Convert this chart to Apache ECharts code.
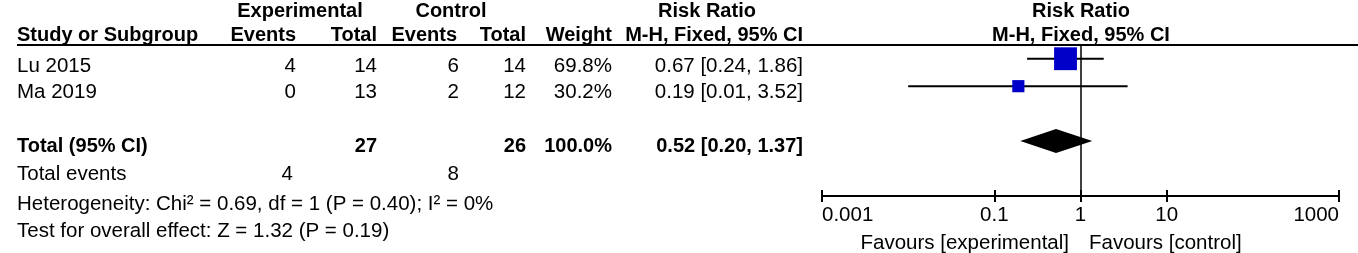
<!DOCTYPE html>
<html>
<head>
<meta charset="utf-8">
<script src="https://cdn.jsdelivr.net/npm/echarts@6/dist/echarts.min.js"></script>
<style>
  html, body { margin: 0; padding: 0; background: #fff; }
  #chart { width: 1358px; height: 253px; }
</style>
</head>
<body>
<div id="chart"></div>
<script>
// study rows
const studies = ["Lu 2015", "Ma 2019"];
const expEvents = [4, 0];
const expTotal = [14, 13];
const ctrlEvents = [6, 2];
const ctrlTotal = [14, 12];
const weights = [69.8, 30.2];
const riskRatio = [0.67, 0.19];
const ciLow = [0.24, 0.01];
const ciHigh = [1.86, 3.52];

// pooled result
const totalExp = 27;
const totalCtrl = 26;
const totalWeight = 100.0;
const totalRR = 0.52;
const totalLow = 0.20;
const totalHigh = 1.37;
const totalExpEvents = 4;
const totalCtrlEvents = 8;
const heterogeneity = "Heterogeneity: Chi² = 0.69, df = 1 (P = 0.40); I² = 0%";
const overallEffect = "Test for overall effect: Z = 1.32 (P = 0.19)";

// x axis (log scale)
const tickValues = [0.001, 0.1, 1, 10, 1000];
const tickLogs = tickValues.map(Math.log10);

const chart = echarts.init(document.getElementById("chart"));

const FONT = '20.5px "Liberation Sans", Arial, sans-serif';
const BOLD = 'bold 20px "Liberation Sans", Arial, sans-serif';

function txt(text, x, y, align, font) {
	return {
		type: "text",
		x: x,
		y: y,
		silent: true,
		style: {
			text: text,
			font: font || FONT,
			fill: "#000",
			textAlign: align || "left",
			textVerticalAlign: "middle",
		},
	};
}

// column anchors (right edges) of the table
const colStudy = 17;
const colExpE = 296;
const colExpT = 377;
const colCtrlE = 459;
const colCtrlT = 526;
const colWeight = 612;
const colCI = 803;
const studyRowY = [66, 92];

const fmtCI = (r, lo, hi) => r.toFixed(2) + " [" + lo.toFixed(2) + ", " + hi.toFixed(2) + "]";

const graphics = [
	// headers
	txt("Experimental", 300, 11, "center", BOLD),
	txt("Control", 451, 11, "center", BOLD),
	txt("Risk Ratio", 707, 11, "center", BOLD),
	txt("Risk Ratio", 1081, 11, "center", BOLD),
	txt("Study or Subgroup", colStudy, 35, "left", BOLD),
	txt("Events", colExpE, 35, "right", BOLD),
	txt("Total", colExpT, 35, "right", BOLD),
	txt("Events", colCtrlE - 2, 35, "right", BOLD),
	txt("Total", colCtrlT, 35, "right", BOLD),
	txt("Weight", colWeight, 35, "right", BOLD),
	txt("M-H, Fixed, 95% CI", colCI, 35, "right", BOLD),
	txt("M-H, Fixed, 95% CI", 1081, 35, "center", BOLD),
	{
		type: "line",
		silent: true,
		shape: {x1: 17, y1: 45, x2: 1358, y2: 45},
		style: {stroke: "#000", lineWidth: 2},
	},
];

studies.forEach((s, i) => {
	const y = studyRowY[i];
	graphics.push(
		txt(s, colStudy, y, "left"),
		txt(String(expEvents[i]), colExpE, y, "right"),
		txt(String(expTotal[i]), colExpT, y, "right"),
		txt(String(ctrlEvents[i]), colCtrlE, y, "right"),
		txt(String(ctrlTotal[i]), colCtrlT, y, "right"),
		txt(weights[i].toFixed(1) + "%", colWeight, y, "right"),
		txt(fmtCI(riskRatio[i], ciLow[i], ciHigh[i]), colCI, y, "right")
	);
});

// totals
graphics.push(
	txt("Total (95% CI)", colStudy, 146, "left", BOLD),
	txt(String(totalExp), colExpT, 146, "right", BOLD),
	txt(String(totalCtrl), colCtrlT, 146, "right", BOLD),
	txt(totalWeight.toFixed(1) + "%", colWeight, 146, "right", BOLD),
	txt(fmtCI(totalRR, totalLow, totalHigh), colCI, 146, "right", BOLD),
	txt("Total events", colStudy, 174, "left"),
	txt(String(totalExpEvents), colExpE - 3, 174, "right"),
	txt(String(totalCtrlEvents), colCtrlE, 174, "right"),
	txt(heterogeneity, colStudy, 204, "left"),
	txt(overallEffect, colStudy, 231, "left"),
	txt("Favours [experimental]", 1069, 243, "right"),
	txt("Favours [control]", 1089, 243, "left")
);

const studyData = studies.map((s, i) => [
	i,
	Math.log10(riskRatio[i]),
	Math.log10(ciLow[i]),
	Math.log10(ciHigh[i]),
	weights[i],
]);
const totalData = [[3, Math.log10(totalRR), Math.log10(totalLow), Math.log10(totalHigh)]];

function renderStudy(params, api) {
	const row = api.value(0);
	const mid = api.coord([api.value(1), row]);
	const lo = api.coord([api.value(2), row]);
	const hi = api.coord([api.value(3), row]);
	const size = 4 + api.value(4) * 0.27; // box grows with weight
	return {
		type: "group",
		children: [
			{
				type: "line",
				shape: {x1: lo[0], y1: lo[1], x2: hi[0], y2: hi[1]},
				style: {stroke: "#000", lineWidth: 2},
			},
			{
				type: "rect",
				shape: {x: mid[0] - size / 2, y: mid[1] - size / 2, width: size, height: size},
				style: {fill: "#0000c8"},
			},
		],
	};
}

function renderDiamond(params, api) {
	const row = api.value(0);
	const mid = api.coord([api.value(1), row]);
	const lo = api.coord([api.value(2), row]);
	const hi = api.coord([api.value(3), row]);
	const h = 12;
	return {
		type: "polygon",
		shape: {
			points: [
				[lo[0], mid[1]],
				[mid[0], mid[1] - h],
				[hi[0], mid[1]],
				[mid[0], mid[1] + h],
			],
		},
		style: {fill: "#000"},
	};
}

const labelFormatter = (v) => {
	const t = tickValues.find((tv) => Math.abs(Math.log10(tv) - v) < 1e-6);
	return t === undefined ? "" : String(t);
};

const options = {
	animation: false,
	grid: {left: 822, right: 19, top: 45, bottom: 57},
	xAxis: [
		{
			type: "value",
			min: -3,
			max: 3,
			position: "bottom",
			axisLine: {show: true, onZero: false, lineStyle: {color: "#000", width: 2}},
			axisTick: {show: true, customValues: tickLogs, length: 6, lineStyle: {color: "#000", width: 2}},
			axisLabel: {
				customValues: tickLogs,
				formatter: labelFormatter,
				color: "#000",
				fontSize: 20.5,
				fontFamily: "Liberation Sans",
				margin: 9,
				alignMinLabel: "left",
				alignMaxLabel: "right",
			},
			splitLine: {show: false},
		},
		{
			type: "value",
			min: -3,
			max: 3,
			position: "bottom",
			axisLine: {show: false, onZero: false},
			axisTick: {show: true, inside: true, customValues: tickLogs, length: 6, lineStyle: {color: "#000", width: 2}},
			axisLabel: {show: false},
			splitLine: {show: false},
		},
	],
	yAxis: {type: "value", inverse: true, min: -0.5, max: 5, show: false},
	graphic: graphics,
	series: [
		{
			type: "custom",
			renderItem: renderStudy,
			data: studyData,
			encode: {x: [1, 2, 3], y: 0},
			markLine: {
				silent: true,
				symbol: ["none", "none"],
				label: {show: false},
				lineStyle: {color: "#000", width: 1.5, type: "solid"},
				data: [{xAxis: 0}],
			},
		},
		{
			type: "custom",
			renderItem: renderDiamond,
			data: totalData,
			encode: {x: [1, 2, 3], y: 0},
		},
	],
};

chart.setOption(options);
</script>
</body>
</html>
